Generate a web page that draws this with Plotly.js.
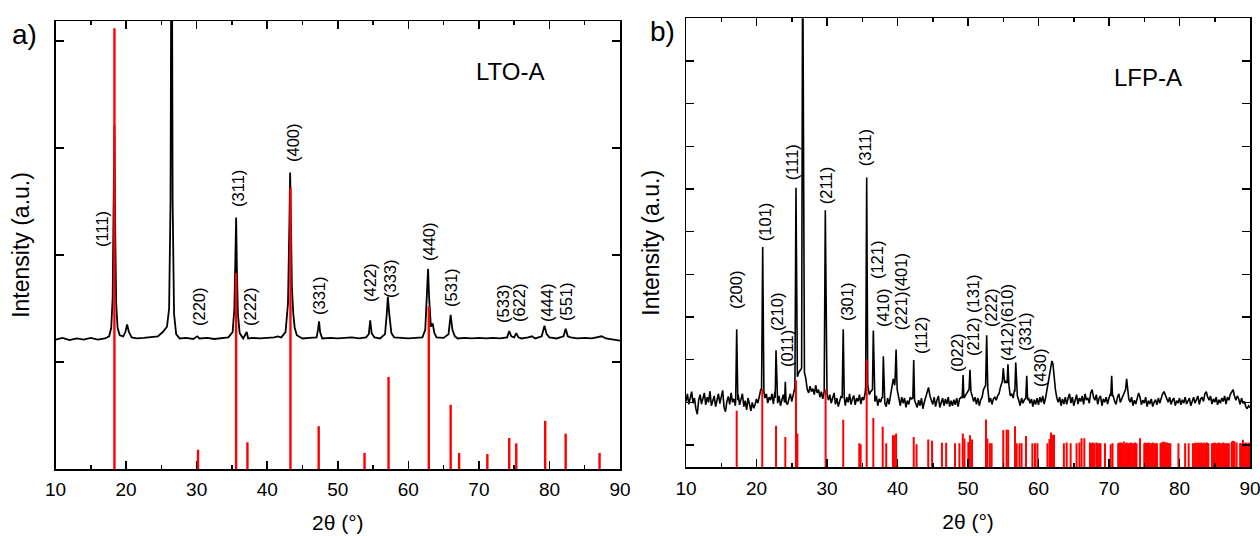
<!DOCTYPE html>
<html><head><meta charset="utf-8">
<script src="https://cdn.plot.ly/plotly-3.0.1.min.js"></script>
<style>html,body{margin:0;padding:0;background:#fff}#chart{width:1260px;height:536px}</style>
</head><body><div id="chart"></div>
<script>
// ---------- Panel a : LTO-A ----------
const ltoTheta = [10,11,12,13,14,15,16,17,17.6,17.9,18.1,18.25,18.35,18.45,18.6,18.8,19.1,19.6,19.9,20.15,20.4,20.8,21.5,22.5,23.5,24.5,25.2,25.5,25.8,26.1,26.3,26.46,26.6,26.8,27.1,27.6,28.5,29.5,30.1,30.4,31.5,32.5,33.5,34.5,35.1,35.35,35.5,35.6,35.7,35.85,36.1,36.6,37.1,37.3,38,39,40,41,41.5,42,42.6,42.95,43.15,43.25,43.35,43.5,43.7,43.9,44.2,45,46,47,47.2,47.35,47.5,47.8,49,50,51,52,53,54,54.4,54.6,54.8,55.2,56,56.7,56.95,57.1,57.3,57.6,58,59,60,61,62,62.4,62.65,62.8,62.95,63.2,63.45,63.7,64,65,65.7,66,66.25,66.6,67,68,69,70,71,72,73,74,74.3,74.6,75,75.3,75.6,76,77,77.5,78,78.9,79.3,79.6,80,81,82,82.3,82.6,83,84,85,86,87,87.4,88,89,90];
const ltoIntensity = [1.21,1.225,1.205,1.22,1.21,1.225,1.21,1.22,1.24,1.32,1.6,2.5,3.21,2.3,1.55,1.32,1.25,1.24,1.28,1.35,1.28,1.23,1.22,1.225,1.23,1.24,1.28,1.31,1.33,1.5,2.5,6,2.5,1.45,1.26,1.22,1.225,1.215,1.24,1.22,1.225,1.215,1.22,1.23,1.28,1.5,2.0,2.35,1.9,1.45,1.27,1.22,1.28,1.22,1.225,1.22,1.225,1.23,1.24,1.23,1.28,1.55,2.3,2.77,2.4,1.7,1.45,1.32,1.25,1.22,1.225,1.23,1.3,1.38,1.28,1.22,1.225,1.22,1.225,1.23,1.22,1.23,1.26,1.39,1.27,1.23,1.22,1.26,1.45,1.61,1.45,1.27,1.23,1.225,1.22,1.225,1.23,1.3,1.6,1.87,1.6,1.33,1.36,1.27,1.23,1.225,1.26,1.44,1.3,1.24,1.22,1.225,1.22,1.225,1.22,1.225,1.22,1.23,1.29,1.24,1.23,1.27,1.23,1.22,1.23,1.24,1.22,1.24,1.34,1.26,1.23,1.22,1.24,1.31,1.24,1.23,1.22,1.225,1.22,1.23,1.24,1.22,1.21,1.2];
const ltoRefTheta = [18.35,30.2,35.6,37.2,43.3,47.3,53.8,57.2,62.9,66.0,67.2,71.2,74.3,75.3,79.4,82.3,87.1];
const ltoRefIntensity = [4.12,0.18,1.83,0.25,2.63,0.40,0.15,0.86,1.52,0.60,0.15,0.14,0.29,0.24,0.45,0.33,0.15];
const ltoHkl = ['(111)','(220)','(311)','(222)','(400)','(331)','(422)','(333)','(440)','(531)','(533)','(622)','(444)','(551)'];

// ---------- Panel b : LFP-A ----------
// noisy background read every 0.2 degree from 10 to 90
const lfpBgStart = 10, lfpBgStep = 0.2;
const lfpBackground = [
1.02,1.20,0.95,1.12,1.25,0.98,1.10,0.85,0.72,1.05,
1.18,0.96,1.08,1.22,0.94,1.12,1.00,1.26,0.92,1.06,
1.15,0.90,1.04,1.20,0.97,1.10,1.28,0.88,0.78,1.02,
1.14,0.95,1.22,1.00,1.08,0.92,1.10,1.18,0.94,1.06,
1.20,0.90,1.04,0.82,1.10,0.96,0.80,1.00,0.86,0.95,
1.08,0.98,1.18,1.30,1.25,1.22,1.10,1.20,0.98,1.12,
1.05,1.20,0.96,1.25,1.10,0.98,1.15,0.92,1.05,1.18,
1.00,1.12,0.95,1.08,1.20,1.02,1.15,1.28,1.35,1.60,
1.70,1.75,1.80,1.85,1.70,1.55,1.30,1.22,1.38,1.25,
1.32,1.18,1.40,1.22,1.30,1.12,1.25,1.08,1.20,1.15,
1.20,1.05,1.18,0.98,1.12,1.22,0.95,1.10,0.90,1.06,
1.15,1.10,1.05,0.92,1.12,1.00,1.20,0.95,1.08,1.16,
0.94,1.10,1.02,1.18,0.96,1.12,1.05,1.20,1.30,1.40,
1.18,1.25,1.30,1.10,1.02,1.15,0.92,1.08,1.00,1.12,
1.10,0.98,0.90,1.10,0.95,1.20,1.35,1.55,1.40,1.50,
1.25,1.05,0.92,1.12,0.98,1.10,0.88,1.04,0.95,1.12,
1.08,1.10,1.05,0.95,0.88,1.05,0.92,1.10,0.85,1.00,
1.12,1.20,1.35,1.15,1.02,0.95,1.12,0.90,1.05,1.15,
0.88,1.02,1.10,0.92,1.08,0.96,1.12,0.90,1.04,0.92,
1.06,0.94,1.10,0.90,1.08,1.12,1.10,1.05,1.15,1.20,
1.25,1.30,1.30,1.15,1.02,1.12,0.95,1.10,0.92,1.06,
1.12,1.30,1.40,1.30,1.12,1.00,1.10,0.95,1.08,1.12,
1.05,1.15,1.20,1.35,1.50,1.55,1.45,1.50,1.40,1.25,
1.15,1.20,1.10,1.30,1.40,1.15,1.05,0.92,1.10,0.98,
1.06,1.20,1.30,1.10,0.98,1.08,0.90,1.06,0.95,1.10,
0.94,1.12,1.00,1.15,0.96,1.10,1.30,1.45,1.70,1.85,
1.85,1.60,1.30,1.10,1.00,1.12,0.92,1.08,0.96,1.12,
0.95,1.10,1.20,0.98,1.12,0.92,1.06,1.18,0.96,1.10,
1.02,1.15,0.95,1.20,1.05,1.10,0.98,1.22,1.30,1.12,
1.05,1.18,0.95,1.10,1.15,0.92,1.08,1.00,1.12,0.96,
1.10,1.20,1.30,1.15,1.02,0.95,1.12,1.20,1.00,1.08,
1.15,1.25,1.35,1.20,1.08,1.00,1.12,0.92,1.05,0.96,
1.10,1.22,1.12,0.94,1.05,0.98,1.12,0.90,1.04,0.96,
1.08,0.90,1.00,1.06,0.94,1.10,0.98,1.12,1.20,1.25,
1.15,1.08,1.00,1.12,0.95,1.05,1.10,0.92,1.04,0.98,
1.10,0.94,1.06,0.98,1.12,0.96,1.05,1.10,0.92,1.02,
1.12,0.98,1.05,1.15,0.95,1.08,1.12,1.02,1.20,1.25,
1.12,1.05,1.15,0.96,1.08,1.00,1.12,0.94,1.06,0.98,
1.10,1.02,1.15,0.96,1.12,1.05,1.18,1.25,1.30,1.15,
1.05,1.15,1.08,0.95,1.10,0.98,1.02,0.90,0.85,0.92,
0.88];
// sharp reflections: left foot, apex, right foot
const lfpPeakTheta = [[17.05,17.19,17.35],[20.72,20.88,21.05],[22.65,22.77,22.9],[23.98,24.09,24.2],[25.45,25.6,25.75],[26.4,26.55,26.7],[29.6,29.76,29.92],[32.15,32.3,32.45],[35.48,35.63,35.78],[36.45,36.57,36.7],[37.88,37.99,38.1],[39.65,39.8,39.95],[42.18,42.3,42.42],[49.18,49.3,49.42],[50.15,50.28,50.42],[52.5,52.65,52.8],[54.88,55.0,55.12],[55.55,55.67,55.8],[56.65,56.77,56.9],[58.2,58.33,58.46],[61.75,61.9,62.05],[70.25,70.38,70.5],[72.35,72.5,72.65]];
const lfpPeakIntensity = [[1.05,2.71,1.05],[1.3,4.64,1.25],[1.1,2.22,1.05],[1.0,1.48,1.0],[1.35,6.03,1.8],[1.8,12,1.9],[1.25,5.5,1.2],[1.1,2.71,1.1],[1.35,6.27,1.4],[1.3,2.68,1.2],[1.1,2.08,1.05],[1.5,2.24,1.3],[1.1,1.99,1.05],[1.1,1.64,1.1],[1.3,1.76,1.25],[1.4,2.57,1.35],[1.5,1.8,1.5],[1.45,1.89,1.4],[1.25,1.93,1.2],[1.1,1.62,1.05],[1.8,1.97,1.9],[1.15,1.62,1.15],[1.3,1.55,1.25]];
const lfpRefTheta = [17.19,20.82,22.77,24.09,25.6,25.8,29.8,32.3,34.58,34.77,35.63,36.57,37.9,38.4,39.35,39.55,39.8,42.3,42.7,44.36,44.9,46.3,46.9,48.16,48.78,49.26,49.5,50.05,50.28,50.57,52.55,52.75,53.1,53.35,55.0,55.48,55.7,56.67,56.9,57.3,57.6,58.23,59.13,59.5,59.85,61.27,61.56,61.77,62.0,62.2,63.6,64.0,64.56,65.4,65.8,66.1,66.5,67.3,67.5,67.7,67.9,68.2,68.4,68.6,68.8,69.43,70.24,70.5,71.3,71.5,71.7,71.9,72.1,72.3,72.5,72.7,72.9,73.1,73.3,73.5,73.7,73.9,74.4,75.0,75.15,75.3,75.45,75.6,75.8,76.0,76.2,76.4,76.6,76.8,77.3,77.45,77.6,77.75,77.9,78.05,78.2,78.35,78.5,78.7,79.85,80.8,81.3,81.9,82.1,82.3,82.5,82.7,82.9,83.1,83.3,83.5,83.7,83.9,84.1,84.6,84.8,85.0,85.2,85.4,85.6,85.8,86.0,86.2,86.4,86.6,86.8,87.0,87.4,87.6,87.8,88.1,88.6,88.8,89.0,89.2,89.4,89.6,89.8,90.0];
const lfpRefIntensity = [0.80,1.30,0.45,0.19,1.52,0.27,1.30,0.59,0.04,0.02,2.0,0.63,0.43,0.04,0.23,0.23,0.27,0.19,0.02,0.13,0.10,0.05,0.05,0.04,0.04,0.27,0.15,0.07,0.23,0.13,0.60,0.15,0.04,0.04,0.35,0.36,0.35,0.44,0.04,0.04,0.04,0.21,0.04,0.04,0.04,0.04,0.14,0.29,0.24,0.24,0.04,0.06,0.04,0.04,0.06,0.16,0.16,0.06,0.04,0.06,0.04,0.06,0.04,0.04,0.04,0.04,0.02,0.04,0.04,0.06,0.06,0.04,0.08,0.04,0.06,0.04,0.04,0.06,0.04,0.04,0.06,0.04,0.16,0.04,0.06,0.04,0.04,0.06,0.04,0.04,0.06,0.04,0.04,0.04,0.04,0.06,0.06,0.08,0.06,0.06,0.06,0.04,0.04,0.04,0.04,0.04,0.04,0.04,0.04,0.06,0.04,0.06,0.04,0.06,0.04,0.06,0.04,0.06,0.04,0.04,0.04,0.06,0.04,0.04,0.06,0.04,0.04,0.06,0.04,0.04,0.04,0.04,0.08,0.10,0.08,0.06,0.04,0.04,0.12,0.04,0.06,0.04,0.06,0.04];
const lfpHkl = ['(200)','(101)','(210)','(011)','(111)','(211)','(301)','(311)','(121)','(410)','(221)(401)','(112)','(022)','(212) (131)','(222)','(412)(610)','(331)','(430)'];

// ---------- placement (positions, not data) ----------
const ltoLabelPos = [[16.59,2.243],[30.34,1.514],[35.86,2.626],[37.56,1.523],[43.66,3.047],[47.34,1.626],[54.57,1.738],[57.4,1.785],[62.93,2.131],[66.05,1.692],[73.42,1.542],[75.69,1.551],[79.66,1.551],[82.35,1.561]];
const lfpLabelPos = [[17.09,3.653],[21.21,5.222],[22.91,3.115],[24.33,2.248],[25.04,6.628],[29.86,6.066],[32.84,3.349],[35.39,6.979],[37.09,4.356],[37.94,3.232],[40.5,3.583],[43.33,2.576],[48.44,2.178],[50.71,3.044],[53.26,3.232],[55.53,2.881],[58.09,2.646],[60.21,1.827]];

const FONT = 'Arial, "Liberation Sans", sans-serif';
const A_YMIN = 0, A_YMAX = 4.187, B_YMIN = -0.523, B_YMAX = 10.0;

// merge the background samples with the peak vertices (background samples under a peak are dropped)
function mergePattern() {
  const pts = [];
  lfpBackground.forEach((v, i) => {
    const t = +(lfpBgStart + i * lfpBgStep).toFixed(2);
    const covered = lfpPeakTheta.some(g => t >= g[0] && t <= g[g.length - 1]);
    if (!covered) pts.push([t, v]);
  });
  lfpPeakTheta.forEach((g, k) => g.forEach((t, j) => pts.push([t, lfpPeakIntensity[k][j]])));
  pts.sort((a, b) => a[0] - b[0]);
  return {x: pts.map(p => p[0]), y: pts.map(p => p[1])};
}
const lfpPattern = mergePattern();

function sticks(xs, hs, base) {
  const x = [], y = [];
  xs.forEach((v, i) => { x.push(v, v, null); y.push(base, hs[i], null); });
  return {x, y};
}
const aSt = sticks(ltoRefTheta, ltoRefIntensity, A_YMIN);
const bSt = sticks(lfpRefTheta, lfpRefIntensity, B_YMIN);

const traces = [
  {x: ltoTheta, y: ltoIntensity, xaxis: 'x', yaxis: 'y', mode: 'lines', line: {color: '#000', width: 1.8}, hoverinfo: 'skip'},
  {x: aSt.x, y: aSt.y, xaxis: 'x', yaxis: 'y', mode: 'lines', line: {color: '#ff0000', width: 2.4}, connectgaps: false, hoverinfo: 'skip'},
  {x: lfpPattern.x, y: lfpPattern.y, xaxis: 'x2', yaxis: 'y2', mode: 'lines', line: {color: '#000', width: 1.6}, hoverinfo: 'skip'},
  {x: bSt.x, y: bSt.y, xaxis: 'x2', yaxis: 'y2', mode: 'lines', line: {color: '#ff0000', width: 2}, connectgaps: false, hoverinfo: 'skip'}
];

function xax(domain, anchor) {
  return {
    domain, anchor, range: [10, 90], tick0: 10, dtick: 10, ticks: 'inside', ticklen: 8, tickwidth: 1.5, tickcolor: '#000',
    showline: true, linecolor: '#000', linewidth: 1.5, mirror: 'allticks', showgrid: false, zeroline: false,
    minor: {ticks: 'inside', ticklen: 4, tickwidth: 1.5, tickcolor: '#000', tick0: 5, dtick: 5, showgrid: false},
    tickfont: {family: FONT, size: 19, color: '#000'}, ticklabelstandoff: 3, ticklabeloverflow: 'allow',
    title: {text: '2θ (°)', font: {family: FONT, size: 21, color: '#000'}, standoff: 16}
  };
}
function yax(domain, anchor, range) {
  return {
    domain, anchor, range, tick0: 0, dtick: 1, ticks: 'inside', ticklen: 8, tickwidth: 1.5, tickcolor: '#000',
    showline: true, linecolor: '#000', linewidth: 1.5, mirror: 'allticks', showgrid: false, zeroline: false,
    showticklabels: false,
    title: {text: 'Intensity (a.u.)', font: {family: FONT, size: 23, color: '#000'}, standoff: 18}
  };
}

const annotations = [];
const base = {showarrow: false, xanchor: 'center', yanchor: 'middle'};
ltoHkl.forEach((t, i) => annotations.push(Object.assign({}, base, {xref: 'x', yref: 'y', x: ltoLabelPos[i][0], y: ltoLabelPos[i][1], text: t, textangle: -90, font: {family: FONT, size: 16.5, color: '#000'}})));
lfpHkl.forEach((t, i) => annotations.push(Object.assign({}, base, {xref: 'x2', yref: 'y2', x: lfpLabelPos[i][0], y: lfpLabelPos[i][1], text: t, textangle: -90, font: {family: FONT, size: 16.5, color: '#000'}})));
annotations.push(Object.assign({}, base, {xref: 'paper', yref: 'paper', x: 24/1260, y: 1 - 34/536, text: 'a)', font: {family: FONT, size: 28, color: '#000'}}));
annotations.push(Object.assign({}, base, {xref: 'paper', yref: 'paper', x: 662/1260, y: 1 - 31/536, text: 'b)', font: {family: FONT, size: 28, color: '#000'}}));
annotations.push(Object.assign({}, base, {xref: 'paper', yref: 'paper', x: 510/1260, y: 1 - 71/536, text: 'LTO-A', font: {family: FONT, size: 24, color: '#000'}}));
annotations.push(Object.assign({}, base, {xref: 'paper', yref: 'paper', x: 1148/1260, y: 1 - 77/536, text: 'LFP-A', font: {family: FONT, size: 24, color: '#000'}}));

const layout = {
  width: 1260, height: 536, margin: {l: 0, r: 0, t: 0, b: 0}, paper_bgcolor: '#fff', plot_bgcolor: '#fff',
  showlegend: false, font: {family: FONT, color: '#000'},
  xaxis: xax([55.5/1260, 620/1260], 'y'),
  yaxis: yax([67/536, 515/536], 'x', [A_YMIN, A_YMAX]),
  xaxis2: xax([686/1260, 1250/1260], 'y2'),
  yaxis2: yax([68.7/536, 517.7/536], 'x2', [B_YMIN, B_YMAX]),
  annotations
};
Plotly.newPlot('chart', traces, layout, {staticPlot: true, displayModeBar: false});
</script></body></html>
